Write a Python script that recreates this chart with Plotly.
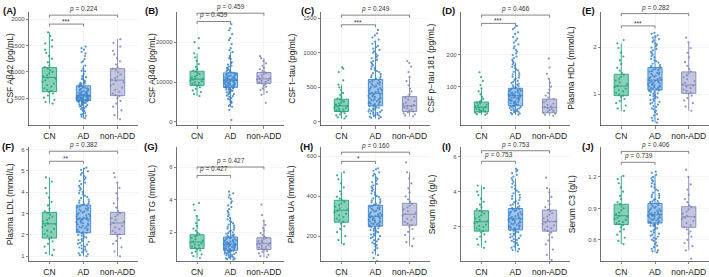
import plotly.graph_objects as go

# ---------------- data ----------------
groups = ["CN", "AD", "non-ADD"]

# (A) CSF Abeta42
ab42_CN = [1750, 1680, 1600, 1540, 1480, 1420, 1360, 1300, 1250, 1180, 1120, 1090, 1060, 1030, 1000, 970, 940, 910, 890, 870, 840, 810, 780, 750, 720, 690, 660, 640, 620, 590, 550, 510, 470, 430, 400]
ab42_AD = [1480, 1420, 1350, 1300, 1240, 1180, 1120, 1060, 1010, 960, 920, 880, 840, 800, 780, 760, 740, 720, 700, 680, 660, 640, 620, 605, 590, 575, 565, 555, 548, 540, 532, 525, 517, 510, 502, 495, 488, 480, 473, 466, 460, 455, 448, 440, 430, 420, 410, 400, 385, 370, 355, 340, 320, 300, 280, 250, 220, 190, 150, 120,
           1450, 1380, 1200, 1020, 900, 860, 820, 790, 770, 750, 730, 715, 705, 690, 675, 665, 650, 635, 625, 612, 598, 585, 572, 560, 552, 545, 537, 528, 520, 513, 506, 498, 491, 484, 477, 470, 463, 451, 444, 436, 425, 415, 395, 375, 345, 310, 260, 200, 170]
ab42_nonADD = [1620, 1550, 1480, 1400, 1330, 1260, 1200, 1140, 1090, 1060, 1030, 990, 950, 910, 880, 850, 830, 800, 770, 740, 700, 660, 620, 590, 560, 540, 500, 450, 400, 340, 270, 180, 100]
ab42_q1 = [624, 455, 549]
ab42_med = [894, 549, 843]
ab42_q3 = [1081, 736, 1062]
ab42_lo = [400, 120, 100]
ab42_hi = [1750, 1120, 1620]

# (B) CSF Abeta40
ab40_CN = [21000, 20000, 18500, 17200, 16200, 15300, 14500, 13800, 13200, 12900, 12600, 12300, 12000, 11700, 11400, 11100, 10900, 10750, 10600, 10400, 10200, 10000, 9800, 9600, 9400, 9200, 9000, 8700, 8300, 7900, 7500, 7000, 6500]
ab40_AD = [24500, 23500, 22000, 20500, 19500, 18500, 17500, 16500, 15800, 15000, 14400, 13900, 13400, 13000, 12700, 12400, 12200, 12000, 11800, 11600, 11400, 11200, 11000, 10850, 10700, 10600, 10500, 10400, 10300, 10150, 10000, 9850, 9700, 9550, 9400, 9250, 9100, 8950, 8800, 8650, 8500, 8300, 8100, 7900, 7700, 7500, 7200, 6900, 6600, 6300, 6000, 5600, 5200, 4800, 4300, 3800, 3000, 500,
           23000, 21000, 18000, 16000, 14700, 14100, 13600, 13200, 12850, 12550, 12300, 12100, 11900, 11700, 11500, 11300, 11100, 10950, 10800, 10650, 10550, 10450, 10350, 10250, 10100, 9950, 9800, 9650, 9500, 9350, 9200, 9050, 8900, 8750, 8600, 8400, 8200, 8000, 7800, 7400, 7000, 6500, 5800, 5000, 4000]
ab40_nonADD = [16500, 16000, 15300, 14700, 14100, 13600, 13200, 12800, 12500, 12300, 12000, 11700, 11400, 11150, 10950, 10800, 10650, 10450, 10250, 10050, 9850, 9650, 9400, 9100, 8800, 8400, 8000, 7500, 6800, 4800]
ab40_q1 = [9170, 8680, 9670]
ab40_med = [10740, 10490, 10810]
ab40_q3 = [12720, 12300, 12400]
ab40_lo = [6500, 3800, 6800]
ab40_hi = [17200, 17500, 16000]

# (C) CSF t-tau
ttau_CN = [790, 770, 720, 600, 540, 500, 460, 420, 390, 360, 340, 325, 310, 295, 280, 265, 250, 240, 230, 220, 210, 200, 190, 180, 170, 160, 150, 140, 125, 110, 95, 80, 65, 50]
ttau_AD = [1330, 1280, 1220, 1160, 1100, 1060, 1020, 980, 940, 900, 860, 820, 780, 750, 720, 690, 660, 635, 610, 590, 570, 550, 530, 510, 490, 470, 450, 430, 415, 400, 385, 370, 355, 340, 325, 310, 295, 280, 265, 250, 235, 220, 205, 190, 175, 160, 145, 130, 115, 100, 85, 70, 50,
           1250, 1190, 1130, 1080, 1040, 1000, 960, 920, 880, 840, 800, 765, 735, 705, 675, 648, 622, 600, 580, 560, 540, 520, 500, 480, 460, 440, 422, 408, 392, 378, 362, 348, 332, 318, 302, 288, 272, 258, 242, 228, 212, 198, 182, 168, 152, 138, 122, 108, 92, 78, 60]
ttau_nonADD = [880, 850, 800, 720, 650, 590, 530, 480, 440, 400, 370, 345, 320, 300, 280, 260, 245, 235, 225, 210, 195, 180, 165, 150, 140, 125, 110, 95, 80]
ttau_q1 = [151, 233, 151]
ttau_med = [233, 414, 233]
ttau_q3 = [329, 614, 366]
ttau_lo = [50, 50, 80]
ttau_hi = [540, 1160, 650]

# (D) CSF p-tau 181
ptau_CN = [145, 130, 118, 105, 95, 85, 76, 68, 62, 57, 53, 50, 47, 44, 41, 38, 36, 34, 32, 30, 28, 26, 24, 22, 20, 18, 16, 14, 12]
ptau_AD = [290, 280, 265, 250, 238, 226, 215, 204, 194, 184, 175, 166, 158, 150, 142, 135, 128, 121, 115, 109, 104, 99, 95, 92, 89, 86, 83, 80, 77, 75, 73, 71, 69, 67, 65, 62, 59, 56, 53, 50, 47, 44, 41, 38, 35, 32, 29, 26, 23, 20, 16, 12,
           285, 270, 255, 244, 232, 220, 210, 199, 189, 179, 170, 162, 154, 146, 138, 131, 125, 118, 112, 106, 101, 97, 93, 90, 87, 84, 81, 78, 76, 74, 72, 70, 68, 66, 63, 60, 57, 54, 51, 48, 45, 42, 39, 36, 33, 30, 27, 24, 21, 18, 14]
ptau_nonADD = [188, 160, 140, 125, 112, 100, 90, 80, 72, 66, 61, 56, 51, 47, 43, 39, 36, 33, 30, 27, 24, 21, 18, 15, 12, 9]
ptau_q1 = [21, 40, 18]
ptau_med = [36, 72, 35]
ptau_q3 = [52, 95, 61]
ptau_lo = [12, 12, 9]
ptau_hi = [95, 175, 125]

# (E) Plasma HDL
hdl_CN = [2.15, 2.08, 1.98, 1.88, 1.80, 1.72, 1.64, 1.56, 1.50, 1.45, 1.41, 1.37, 1.33, 1.29, 1.25, 1.21, 1.18, 1.15, 1.12, 1.09, 1.06, 1.03, 1.00, 0.97, 0.94, 0.90, 0.86, 0.81, 0.76, 0.70, 0.65]
hdl_AD = [2.30, 2.25, 2.20, 2.14, 2.08, 2.02, 1.96, 1.90, 1.84, 1.78, 1.72, 1.67, 1.62, 1.58, 1.55, 1.52, 1.49, 1.46, 1.43, 1.40, 1.37, 1.35, 1.32, 1.30, 1.28, 1.26, 1.24, 1.22, 1.20, 1.18, 1.16, 1.14, 1.12, 1.10, 1.08, 1.05, 1.02, 0.99, 0.96, 0.93, 0.90, 0.86, 0.82, 0.78, 0.73, 0.68, 0.62, 0.55, 0.47, 0.40,
          2.28, 2.22, 2.17, 2.11, 2.05, 1.99, 1.93, 1.87, 1.81, 1.75, 1.70, 1.65, 1.60, 1.57, 1.54, 1.51, 1.48, 1.45, 1.42, 1.39, 1.36, 1.34, 1.31, 1.29, 1.27, 1.25, 1.23, 1.21, 1.19, 1.17, 1.15, 1.13, 1.11, 1.09, 1.07, 1.04, 1.01, 0.98, 0.95, 0.92, 0.88, 0.84, 0.80, 0.75, 0.70, 0.65, 0.58, 0.50, 0.44]
hdl_nonADD = [2.20, 2.10, 1.98, 1.88, 1.78, 1.68, 1.60, 1.53, 1.48, 1.44, 1.40, 1.36, 1.32, 1.28, 1.24, 1.21, 1.19, 1.16, 1.13, 1.10, 1.07, 1.04, 1.01, 0.97, 0.92, 0.87, 0.81, 0.74, 0.65]
hdl_q1 = [0.97, 1.09, 1.02]
hdl_med = [1.174, 1.30, 1.195]
hdl_q3 = [1.425, 1.566, 1.474]
hdl_lo = [0.65, 0.40, 0.65]
hdl_hi = [2.08, 2.25, 2.10]

# (F) Plasma LDL
ldl_CN = [4.70, 4.50, 4.20, 3.95, 3.75, 3.55, 3.38, 3.22, 3.10, 3.02, 2.94, 2.86, 2.78, 2.70, 2.62, 2.55, 2.50, 2.44, 2.36, 2.28, 2.20, 2.12, 2.04, 1.96, 1.88, 1.80, 1.70, 1.58, 1.45, 1.30, 1.15, 1.05]
ldl_AD = [5.15, 5.05, 4.90, 4.75, 4.60, 4.45, 4.30, 4.15, 4.02, 3.90, 3.78, 3.66, 3.56, 3.47, 3.40, 3.33, 3.26, 3.19, 3.12, 3.05, 2.98, 2.92, 2.86, 2.80, 2.75, 2.70, 2.64, 2.58, 2.52, 2.46, 2.40, 2.34, 2.28, 2.22, 2.16, 2.10, 2.03, 1.96, 1.88, 1.80, 1.72, 1.63, 1.54, 1.45, 1.36, 1.27, 1.18, 1.09, 1.00,
          5.10, 4.98, 4.82, 4.68, 4.52, 4.38, 4.22, 4.08, 3.96, 3.84, 3.72, 3.61, 3.51, 3.44, 3.37, 3.30, 3.23, 3.16, 3.09, 3.02, 2.95, 2.89, 2.83, 2.78, 2.73, 2.67, 2.61, 2.55, 2.49, 2.43, 2.37, 2.31, 2.25, 2.19, 2.13, 2.07, 2.00, 1.92, 1.84, 1.76, 1.68, 1.59, 1.50, 1.41, 1.32, 1.23, 1.14, 1.05]
ldl_nonADD = [4.90, 4.70, 4.45, 4.20, 3.95, 3.70, 3.48, 3.28, 3.12, 3.02, 2.94, 2.86, 2.78, 2.70, 2.62, 2.56, 2.50, 2.43, 2.35, 2.27, 2.19, 2.11, 2.03, 1.95, 1.85, 1.72, 1.58, 1.42, 1.22, 1.00]
ldl_q1 = [1.85, 2.10, 2.02]
ldl_med = [2.52, 2.75, 2.56]
ldl_q3 = [3.06, 3.40, 3.06]
ldl_lo = [1.05, 1.00, 1.00]
ldl_hi = [4.70, 5.15, 4.45]

# (G) Plasma TG
tg_CN = [3.80, 3.70, 3.35, 3.00, 2.75, 2.55, 2.38, 2.22, 2.08, 1.96, 1.88, 1.80, 1.72, 1.64, 1.56, 1.48, 1.41, 1.36, 1.30, 1.24, 1.18, 1.12, 1.06, 1.00, 0.94, 0.87, 0.80, 0.72, 0.63, 0.52, 0.40]
tg_AD = [4.50, 4.30, 4.05, 3.80, 3.55, 3.30, 3.08, 2.88, 2.70, 2.54, 2.40, 2.27, 2.15, 2.04, 1.94, 1.85, 1.77, 1.70, 1.63, 1.57, 1.51, 1.46, 1.41, 1.36, 1.32, 1.28, 1.25, 1.22, 1.18, 1.14, 1.10, 1.06, 1.02, 0.98, 0.94, 0.90, 0.87, 0.83, 0.79, 0.75, 0.70, 0.65, 0.60, 0.54, 0.48, 0.42, 0.36, 0.30,
         4.40, 4.15, 3.90, 3.65, 3.42, 3.20, 2.98, 2.79, 2.62, 2.47, 2.33, 2.21, 2.10, 1.99, 1.90, 1.81, 1.74, 1.67, 1.60, 1.54, 1.49, 1.44, 1.39, 1.34, 1.30, 1.27, 1.24, 1.20, 1.16, 1.12, 1.08, 1.04, 1.00, 0.96, 0.92, 0.89, 0.85, 0.81, 0.77, 0.73, 0.68, 0.63, 0.57, 0.51, 0.45, 0.39, 0.33]
tg_nonADD = [3.70, 3.05, 2.70, 2.45, 2.25, 2.08, 1.94, 1.82, 1.72, 1.64, 1.57, 1.50, 1.44, 1.38, 1.33, 1.29, 1.25, 1.20, 1.15, 1.10, 1.05, 1.00, 0.95, 0.90, 0.84, 0.77, 0.69, 0.60, 0.52, 0.45]
tg_q1 = [0.99, 0.88, 0.93]
tg_med = [1.39, 1.25, 1.31]
tg_q3 = [1.84, 1.70, 1.66]
tg_lo = [0.40, 0.30, 0.45]
tg_hi = [3.00, 2.88, 2.70]

# (H) Plasma UA
ua_CN = [520, 505, 485, 465, 445, 425, 410, 398, 388, 380, 372, 364, 356, 348, 340, 333, 327, 320, 312, 304, 296, 288, 280, 272, 262, 250, 236, 220, 200, 180, 160]
ua_AD = [540, 528, 512, 495, 478, 462, 448, 434, 420, 408, 396, 385, 375, 366, 358, 351, 344, 337, 330, 323, 316, 310, 304, 300, 296, 291, 286, 281, 276, 271, 266, 261, 256, 251, 246, 240, 234, 227, 220, 212, 204, 195, 185, 174, 162, 148, 130, 105, 75,
         535, 520, 503, 487, 470, 455, 441, 427, 414, 402, 390, 380, 370, 362, 354, 348, 341, 334, 327, 320, 313, 307, 302, 298, 294, 289, 284, 279, 274, 269, 264, 259, 254, 249, 243, 237, 231, 224, 216, 208, 200, 190, 180, 168, 155, 140, 118, 90]
ua_nonADD = [570, 520, 490, 465, 440, 418, 400, 385, 372, 362, 352, 343, 334, 325, 317, 310, 303, 296, 288, 280, 272, 264, 256, 247, 236, 222, 206, 188, 170, 150]
ua_q1 = [270, 250, 255]
ua_med = [330, 300, 310]
ua_q3 = [380, 355, 365]
ua_lo = [160, 105, 150]
ua_hi = [520, 512, 520]

# (I) Serum IgA
iga_CN = [4.35, 4.20, 4.00, 3.80, 3.60, 3.42, 3.26, 3.12, 3.00, 2.92, 2.84, 2.75, 2.66, 2.57, 2.48, 2.40, 2.32, 2.26, 2.19, 2.12, 2.05, 1.98, 1.91, 1.84, 1.76, 1.67, 1.56, 1.44, 1.30, 1.14, 0.98, 0.80]
iga_AD = [5.30, 5.15, 4.95, 4.75, 4.55, 4.35, 4.16, 3.98, 3.81, 3.66, 3.52, 3.39, 3.27, 3.16, 3.06, 2.98, 2.90, 2.82, 2.74, 2.67, 2.60, 2.53, 2.47, 2.42, 2.37, 2.31, 2.25, 2.19, 2.13, 2.07, 2.01, 1.95, 1.89, 1.83, 1.76, 1.69, 1.61, 1.53, 1.44, 1.35, 1.25, 1.14, 1.02, 0.88, 0.74, 0.60,
          5.22, 5.05, 4.85, 4.65, 4.45, 4.25, 4.07, 3.90, 3.74, 3.59, 3.46, 3.33, 3.22, 3.11, 3.02, 2.94, 2.86, 2.78, 2.71, 2.64, 2.57, 2.50, 2.45, 2.40, 2.34, 2.28, 2.22, 2.16, 2.10, 2.04, 1.98, 1.92, 1.86, 1.80, 1.73, 1.65, 1.57, 1.49, 1.40, 1.30, 1.20, 1.08, 0.95, 0.81, 0.67]
iga_nonADD = [4.80, 4.20, 3.95, 3.70, 3.48, 3.28, 3.12, 2.98, 2.88, 2.78, 2.68, 2.58, 2.48, 2.39, 2.31, 2.24, 2.16, 2.08, 2.00, 1.92, 1.84, 1.76, 1.66, 1.54, 1.40, 1.22, 1.00, 0.70, 0.40, 0.10]
iga_q1 = [1.75, 1.82, 1.75]
iga_med = [2.29, 2.45, 2.29]
iga_q3 = [2.91, 3.04, 2.95]
iga_lo = [0.80, 0.60, 0.10]
iga_hi = [4.35, 4.75, 4.20]

# (J) Serum C3
c3_CN = [1.21, 1.18, 1.14, 1.10, 1.06, 1.02, 0.99, 0.96, 0.94, 0.92, 0.90, 0.88, 0.86, 0.845, 0.83, 0.82, 0.81, 0.80, 0.79, 0.78, 0.77, 0.76, 0.75, 0.74, 0.72, 0.70, 0.68, 0.65, 0.62, 0.59, 0.56]
c3_AD = [1.25, 1.22, 1.19, 1.16, 1.13, 1.10, 1.07, 1.04, 1.02, 1.00, 0.98, 0.965, 0.95, 0.935, 0.92, 0.905, 0.89, 0.88, 0.87, 0.86, 0.85, 0.84, 0.835, 0.83, 0.82, 0.81, 0.80, 0.79, 0.78, 0.77, 0.76, 0.75, 0.74, 0.73, 0.71, 0.69, 0.67, 0.65, 0.63, 0.61, 0.59, 0.56, 0.53, 0.50, 0.48,
         1.24, 1.20, 1.17, 1.14, 1.11, 1.08, 1.05, 1.03, 1.01, 0.99, 0.97, 0.96, 0.945, 0.93, 0.915, 0.90, 0.885, 0.875, 0.865, 0.855, 0.845, 0.84, 0.83, 0.825, 0.815, 0.805, 0.795, 0.785, 0.775, 0.765, 0.755, 0.745, 0.735, 0.72, 0.70, 0.68, 0.66, 0.64, 0.62, 0.60, 0.575, 0.545, 0.515, 0.49]
c3_nonADD = [1.27, 1.20, 1.13, 1.08, 1.03, 0.99, 0.96, 0.93, 0.91, 0.89, 0.87, 0.85, 0.83, 0.82, 0.81, 0.80, 0.78, 0.76, 0.74, 0.72, 0.70, 0.68, 0.66, 0.63, 0.60, 0.57, 0.54, 0.50, 0.42]
c3_q1 = [0.746, 0.76, 0.72]
c3_med = [0.83, 0.84, 0.82]
c3_q3 = [0.94, 0.947, 0.916]
c3_lo = [0.56, 0.48, 0.50]
c3_hi = [1.21, 1.22, 1.20]

# significance labels (CN vs AD, CN vs non-ADD)
sig_inner = ["***", "<i>p</i> = 0.459", "***", "***", "***", "**", "<i>p</i> = 0.427", "*", "<i>p</i> = 0.753", "<i>p</i> = 0.739"]
sig_outer = ["<i>p</i> = 0.224", "<i>p</i> = 0.459", "<i>p</i> = 0.249", "<i>p</i> = 0.466", "<i>p</i> = 0.282",
             "<i>p</i> = 0.382", "<i>p</i> = 0.427", "<i>p</i> = 0.160", "<i>p</i> = 0.753", "<i>p</i> = 0.406"]
y_titles = ["CSF Aβ42 (pg/mL)", "CSF Aβ40 (pg/mL)", "CSF t−tau (pg/mL)", "CSF p−tau 181 (pg/mL)", "Plasma HDL (mmol/L)",
            "Plasma LDL (mmol/L)", "Plasma TG (mmol/L)", "Plasma UA (mmol/L)", "Serum IgA (g/L)", "Serum C3 (g/L)"]
panel_labels = ["(A)", "(B)", "(C)", "(D)", "(E)", "(F)", "(G)", "(H)", "(I)", "(J)"]
y_ticks = [[500, 1000, 1500, 2000], [0, 10000, 20000], [0, 500, 1000, 1500], [100, 200], [1, 2],
           [1, 2, 3, 4, 5, 6], [2, 4, 6], [200, 400, 600], [0, 2, 4, 6], [0.6, 0.9, 1.2]]

points = [
    (ab42_CN, ab42_AD, ab42_nonADD), (ab40_CN, ab40_AD, ab40_nonADD), (ttau_CN, ttau_AD, ttau_nonADD),
    (ptau_CN, ptau_AD, ptau_nonADD), (hdl_CN, hdl_AD, hdl_nonADD), (ldl_CN, ldl_AD, ldl_nonADD),
    (tg_CN, tg_AD, tg_nonADD), (ua_CN, ua_AD, ua_nonADD), (iga_CN, iga_AD, iga_nonADD), (c3_CN, c3_AD, c3_nonADD)]
stats = [
    (ab42_q1, ab42_med, ab42_q3, ab42_lo, ab42_hi), (ab40_q1, ab40_med, ab40_q3, ab40_lo, ab40_hi),
    (ttau_q1, ttau_med, ttau_q3, ttau_lo, ttau_hi), (ptau_q1, ptau_med, ptau_q3, ptau_lo, ptau_hi),
    (hdl_q1, hdl_med, hdl_q3, hdl_lo, hdl_hi), (ldl_q1, ldl_med, ldl_q3, ldl_lo, ldl_hi),
    (tg_q1, tg_med, tg_q3, tg_lo, tg_hi), (ua_q1, ua_med, ua_q3, ua_lo, ua_hi),
    (iga_q1, iga_med, iga_q3, iga_lo, iga_hi), (c3_q1, c3_med, c3_q3, c3_lo, c3_hi)]

# ---------------- layout / style ----------------
W, H = 709, 277
FONT = "Liberation Sans, Arial, Helvetica, sans-serif"
line_cols = ["#24A27B", "#3B84CD", "#8088B7"]
fill_cols = ["rgba(40,170,128,0.55)", "rgba(70,140,210,0.50)", "rgba(135,142,190,0.50)"]
pt_cols = ["#1E9C74", "#3580CB", "#7A82B3"]

# panel geometry in pixels: (left, right), rows (top, bottom)
x_px = [(29, 138), (177, 284), (321, 430), (461, 570), (601, 709)]
row_px = [(11, 126), (148, 263)]
y_ranges = [(-19, 2137), (-917, 27600), (-53, 1590), (-22, 334), (0.335, 2.746),
            (0.77, 6.10), (0.21, 7.23), (75, 645), (0.04, 6.52), (0.397, 1.482)]
bracket_y = [(1906, 2075), (25190, 27270), (1404, 1543), (298, 324), (2.45, 2.71),
             (5.45, 5.92), (5.5, 6.02), (575, 621), (5.73, 6.33), (1.34, 1.444)]
ytitle_x = [10, 152, 292, 431, 571, 10, 152, 291, 432, 572]
label_x = [1, 143, 299, 440, 580, 0, 142, 298, 440, 580]

fig = go.Figure()
layout = dict(width=W, height=H, margin=dict(l=0, r=0, t=0, b=0), autosize=False,
              paper_bgcolor="white", plot_bgcolor="white", showlegend=False,
              boxmode="overlay", font=dict(family=FONT, color="#1a1a1a"))
shapes, annots = [], []

for i in range(10):
    n = i + 1
    xa, ya = ("x", "y") if n == 1 else (f"x{n}", f"y{n}")
    col, row = i % 5, i // 5
    xl, xr = x_px[col]
    yt, yb = row_px[row]
    ylo, yhi = y_ranges[i]

    for g in range(3):
        vals = points[i][g]
        fig.add_trace(go.Box(
            x=[g + 1] * len(vals), y=vals, xaxis=xa, yaxis=ya, width=0.42,
            boxpoints="all", jitter=1.0, pointpos=0,
            fillcolor="rgba(0,0,0,0)", line=dict(width=0, color="rgba(0,0,0,0)"),
            marker=dict(size=2.2, color=pt_cols[g], opacity=0.85),
            hoverinfo="skip", showlegend=False))
    for g in range(3):
        q1, med, q3, lo, hi = (s[g] for s in stats[i])
        fig.add_trace(go.Box(
            x=[g + 1], q1=[q1], median=[med], q3=[q3], lowerfence=[lo], upperfence=[hi],
            xaxis=xa, yaxis=ya, width=0.42, whiskerwidth=0, boxpoints=False,
            fillcolor=fill_cols[g], line=dict(color=line_cols[g], width=0.9),
            hoverinfo="skip", showlegend=False))

    axis_common = dict(showline=True, linecolor="#333333", linewidth=0.7, ticks="outside",
                       ticklen=2.5, tickwidth=0.6, tickcolor="#333333", showgrid=True,
                       gridcolor="#EEEEEE", gridwidth=0.6, zeroline=False, fixedrange=True)
    layout["xaxis" if n == 1 else f"xaxis{n}"] = dict(
        domain=[xl / W, xr / W], anchor=ya, range=[0.4, 3.6], tickvals=[1, 2, 3], ticktext=groups,
        tickfont=dict(size=8.5, color="#1a1a1a", family=FONT), **axis_common)
    layout["yaxis" if n == 1 else f"yaxis{n}"] = dict(
        domain=[1 - yb / H, 1 - yt / H], anchor=xa, range=[ylo, yhi], tickvals=y_ticks[i],
        ticktext=[str(t) for t in y_ticks[i]], tickfont=dict(size=6, color="#4D4D4D", family=FONT),
        **axis_common)

    # significance brackets
    span = yhi - ylo
    drop = span * 0.022
    for (x1, x2, yy, txt) in [(1, 2, bracket_y[i][0], sig_inner[i]), (1, 3, bracket_y[i][1], sig_outer[i])]:
        shapes.append(dict(type="path", xref=xa, yref=ya,
                           path=f"M {x1},{yy - drop} L {x1},{yy} L {x2},{yy} L {x2},{yy - drop}",
                           line=dict(color="#666666", width=0.8)))
        is_star = "*" in txt and "p" not in txt
        annots.append(dict(x=(x1 + x2) / 2, y=yy, xref=xa, yref=ya, text=txt, showarrow=False,
                           yanchor="bottom", yshift=-3 if is_star else 0,
                           font=dict(size=6.5, color="#333333", family=FONT)))

    # y title
    annots.append(dict(x=ytitle_x[i] / W, y=1 - (yt + yb) / 2 / H, xref="paper", yref="paper",
                       text=y_titles[i], textangle=-90, showarrow=False, xanchor="center", yanchor="middle",
                       font=dict(size=8.5, color="#1a1a1a", family=FONT)))
    # panel label
    annots.append(dict(x=label_x[i] / W, y=1 - (yt - 1) / H, xref="paper", yref="paper",
                       text=f"<b>{panel_labels[i]}</b>", showarrow=False, xanchor="left", yanchor="middle",
                       font=dict(size=9.5, color="#111111", family=FONT)))

layout["shapes"] = shapes
layout["annotations"] = annots
fig.update_layout(**layout)
fig.write_html("out.html", config={"displayModeBar": False, "staticPlot": True},
               post_script="document.body.style.margin='0';document.body.style.padding='0';")
